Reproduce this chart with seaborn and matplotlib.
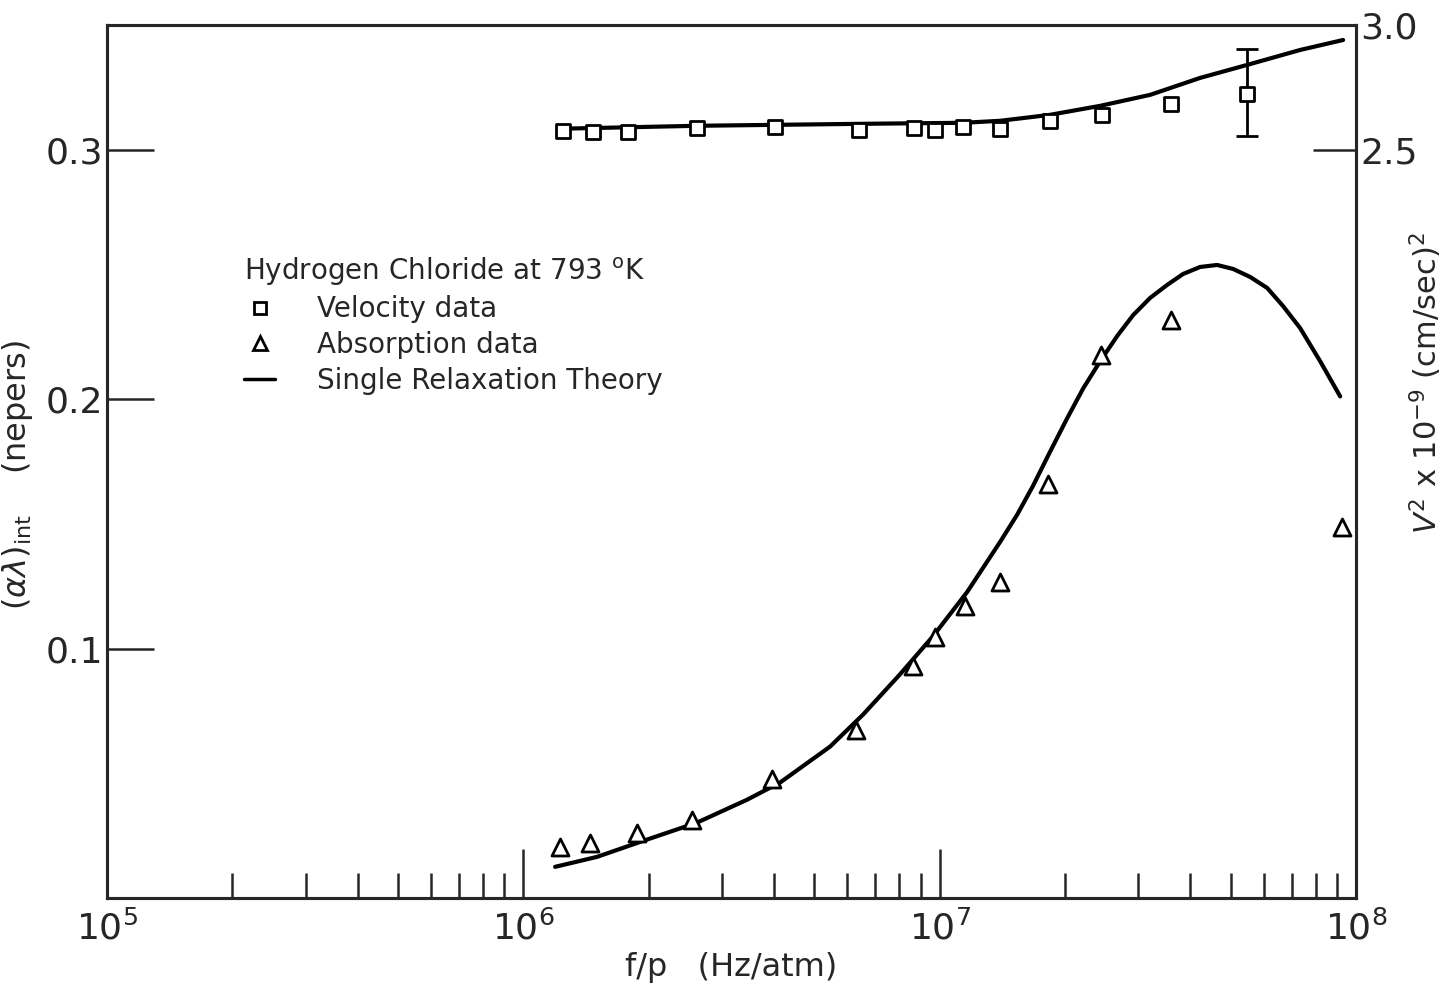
import numpy as np
import pandas as pd
import seaborn as sns
import matplotlib.pyplot as plt
from matplotlib.lines import Line2D
from matplotlib.ticker import NullFormatter

# velocity data (right axis, V^2 x 1e-9)
vel_f = [1.246e6, 1.471e6, 1.784e6, 2.61e6, 4.02e6, 6.40e6, 8.68e6, 9.75e6,
         1.138e7, 1.397e7, 1.842e7, 2.455e7, 3.597e7, 5.474e7]
vel_v2 = [2.576, 2.572, 2.572, 2.588, 2.592, 2.580, 2.588, 2.580,
          2.592, 2.584, 2.616, 2.640, 2.684, 2.724]
# error bar on last velocity point
err_f = [5.474e7]
err_v2 = [2.724]
err_lo = [0.17]
err_hi = [0.18]

# absorption data (left axis, nepers)
abs_f = [1.225e6, 1.446e6, 1.876e6, 2.543e6, 3.958e6, 6.297e6, 8.63e6, 9.75e6,
         1.151e7, 1.397e7, 1.822e7, 2.442e7, 3.597e7, 9.26e7]
abs_al = [0.0205, 0.0221, 0.0261, 0.0314, 0.0479, 0.0672, 0.0929, 0.1046,
          0.1171, 0.1267, 0.1661, 0.2176, 0.2317, 0.1488]

# single relaxation theory curves
th_abs_f = [1.192e6, 1.503e6, 1.939e6, 2.61e6, 3.445e6, 4.136e6, 5.453e6, 6.55e6,
            8.03e6, 9.64e6, 1.164e7, 1.397e7, 1.535e7, 1.676e7, 1.842e7, 2.023e7,
            2.211e7, 2.429e7, 2.668e7, 2.915e7, 3.202e7, 3.518e7, 3.843e7, 4.222e7,
            4.638e7, 5.067e7, 5.566e7, 6.116e7, 6.68e7, 7.34e7, 8.2e7, 9.16e7]
th_abs_al = [0.0125, 0.0165, 0.0229, 0.0302, 0.0394, 0.0463, 0.0607, 0.0736,
             0.0897, 0.1050, 0.1227, 0.1428, 0.1537, 0.1653, 0.1790, 0.1923,
             0.2043, 0.2152, 0.2253, 0.2337, 0.2406, 0.2458, 0.2502, 0.2530,
             0.2538, 0.2522, 0.2490, 0.2446, 0.2373, 0.2285, 0.2152, 0.2011]
th_vel_f = [1.212e6, 2.61e6, 6.55e6, 1.138e7, 1.397e7, 1.842e7, 2.429e7,
            3.202e7, 4.222e7, 5.474e7, 7.34e7, 9.31e7]
th_vel_v2 = [2.584, 2.596, 2.604, 2.608, 2.616, 2.640, 2.676,
             2.720, 2.788, 2.840, 2.900, 2.940]

sns.set_style("ticks")
plt.rcParams['font.family'] = ['DejaVu Sans']
plt.rcParams['axes.linewidth'] = 2.2
plt.rcParams['lines.solid_capstyle'] = 'round'
plt.rcParams['lines.solid_joinstyle'] = 'round'

fig = plt.figure(figsize=(14.46, 9.85), dpi=100)
ax = fig.add_axes([0.074, 0.0883, 0.8638, 0.8863])
ax.set_xscale('log')
ax2 = ax.twinx()

# absorption side
sns.lineplot(x=th_abs_f, y=th_abs_al, ax=ax, color='black', linewidth=3, sort=False)
sns.scatterplot(x=abs_f, y=abs_al, ax=ax, marker='^', s=150, color='white',
                edgecolor='black', linewidth=2, zorder=3)

# velocity side
sns.lineplot(x=th_vel_f, y=th_vel_v2, ax=ax2, color='black', linewidth=3, sort=False)
ax2.errorbar(err_f, err_v2, yerr=[err_lo, err_hi], fmt='none', ecolor='black',
             elinewidth=2, capsize=8, capthick=2)
sns.scatterplot(x=vel_f, y=vel_v2, ax=ax2, marker='s', s=100, color='white',
                edgecolor='black', linewidth=2, zorder=3)

ax.set_xlim(1e5, 1e8)
ax.set_ylim(0, 0.35)
ax2.set_ylim(-0.5, 3.0)

ax.set_yticks([0.1, 0.2, 0.3])
ax.set_yticklabels(['0.1', '0.2', '0.3'])
ax2.set_yticks([2.5, 3.0])
ax2.set_yticklabels(['2.5', '3.0'])
ax.xaxis.set_minor_formatter(NullFormatter())

ax.tick_params(axis='x', which='major', direction='in', length=35, width=1.8,
               labelsize=26, pad=9, top=False)
ax.tick_params(axis='x', which='minor', direction='in', length=18, width=1.8, top=False)
ax.tick_params(axis='y', direction='in', length=34, width=1.8, labelsize=26,
               pad=3, right=False)
ax2.tick_params(axis='y', direction='in', length=31, width=1.8, labelsize=26, pad=3)

ax.set_xlabel('f/p   (Hz/atm)', fontsize=23, labelpad=4)
ax.set_ylabel(r'$(\alpha\lambda)_{\rm int}$    (nepers)', fontsize=23)
ax.yaxis.set_label_coords(-0.058, 0.485)
ax2.set_ylabel(r'$V^2$ x $10^{-9}$ (cm/sec)$^2$', fontsize=22)
ax2.yaxis.set_label_coords(1.041, 0.59)

for sp in ax.spines.values():
    sp.set_linewidth(2.2)

handles = [
    Line2D([], [], marker='s', linestyle='none', markersize=8, markerfacecolor='white',
           markeredgecolor='black', markeredgewidth=2),
    Line2D([], [], marker='^', linestyle='none', markersize=10, markerfacecolor='white',
           markeredgecolor='black', markeredgewidth=2),
    Line2D([], [], color='black', linewidth=2.5),
]
labels = ['Velocity data', 'Absorption data', 'Single Relaxation Theory']
leg = ax.legend(handles, labels, title='Hydrogen Chloride at 793 $^{\\rm o}$K',
                loc='upper left', bbox_to_anchor=(0.09, 0.765), frameon=False,
                fontsize=20, title_fontsize=20, handlelength=1.1,
                handletextpad=1.5, labelspacing=0.28, alignment='left')

fig.savefig('out.png', dpi=100)
